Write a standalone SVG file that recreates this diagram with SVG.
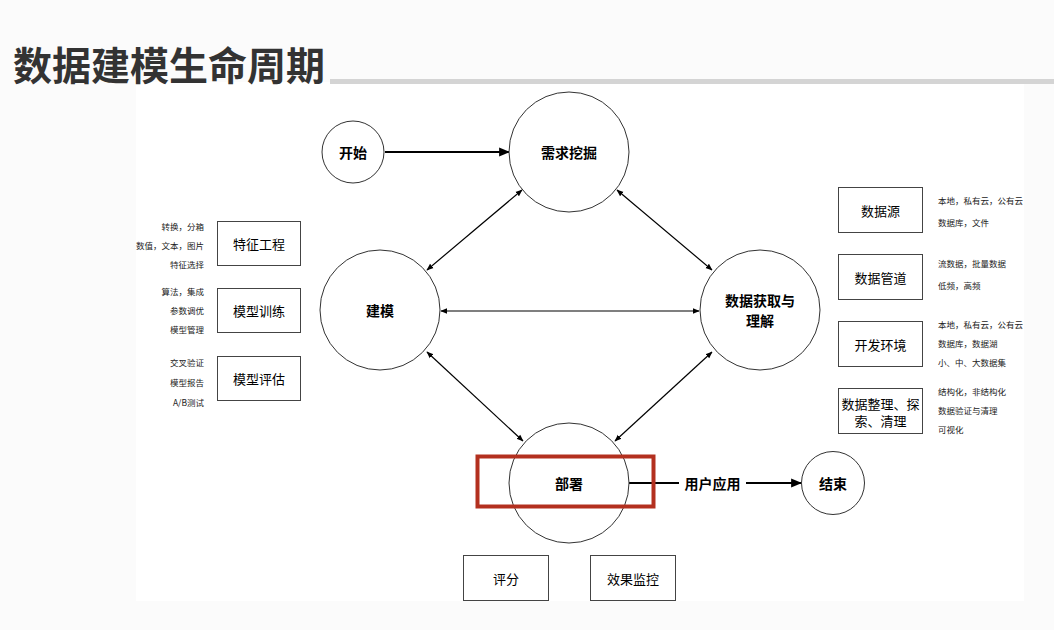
<svg xmlns="http://www.w3.org/2000/svg" width="1054" height="630" viewBox="0 0 1054 630">
<defs>
<marker id="ah" viewBox="0 0 10 10" refX="9" refY="5" markerWidth="7" markerHeight="7" orient="auto-start-reverse" markerUnits="userSpaceOnUse">
<path d="M0,1 L10,5 L0,9 z" fill="#000"/>
</marker>
<marker id="ahb" viewBox="0 0 10 10" refX="9" refY="5" markerWidth="11" markerHeight="11" orient="auto" markerUnits="userSpaceOnUse">
<path d="M0,1 L10,5 L0,9 z" fill="#000"/>
</marker>
<style>
text{font-family:"Noto Sans CJK SC","Liberation Sans",sans-serif;fill:#000}
.t{font-size:39px;font-weight:bold;fill:#333}
.c{fill:#fff;stroke:#333;stroke-width:1}
.ct{font-size:14px;font-weight:bold;text-anchor:middle;dominant-baseline:central}
.b{fill:#fff;stroke:#444;stroke-width:1}
.bt{font-size:13px;text-anchor:middle;dominant-baseline:central}
.s{font-size:8.5px;fill:#222}
.sr{text-anchor:end}
.e{stroke:#000;stroke-width:1.2;fill:none}
.eb{stroke:#000;stroke-width:2;fill:none}
</style>
</defs>
<rect width="1054" height="630" fill="#fbfbfb"/>
<rect x="136" y="82" width="888" height="519" fill="#fff"/>
<text class="t" x="13" y="80">数据建模生命周期</text>
<rect x="330" y="79" width="724" height="5" fill="#d4d4d4"/>

<g id="connectors">
<line class="eb" x1="385" y1="152" x2="509" y2="152" marker-end="url(#ahb)"/>
<line class="e" x1="522" y1="190" x2="427" y2="270" marker-start="url(#ah)" marker-end="url(#ah)"/>
<line class="e" x1="617" y1="190" x2="712" y2="270" marker-start="url(#ah)" marker-end="url(#ah)"/>
<line class="e" x1="441" y1="311" x2="699" y2="311" marker-start="url(#ah)" marker-end="url(#ah)"/>
<line class="e" x1="427" y1="352" x2="523" y2="441" marker-start="url(#ah)" marker-end="url(#ah)"/>
<line class="e" x1="712" y1="352" x2="615" y2="441" marker-start="url(#ah)" marker-end="url(#ah)"/>
<line class="eb" x1="629" y1="483" x2="679" y2="483"/>
<line class="eb" x1="746" y1="483" x2="801" y2="483" marker-end="url(#ahb)"/>
<text x="712.5" y="483" style="font-size:14px;font-weight:bold;text-anchor:middle;dominant-baseline:central">用户应用</text>
</g>

<g id="n-start"><circle class="c" cx="353" cy="152" r="31"/><text class="ct" x="353" y="152">开始</text></g>
<g id="n-req"><circle class="c" cx="569" cy="152" r="60"/><text class="ct" x="569" y="152">需求挖掘</text></g>
<g id="n-model"><circle class="c" cx="380" cy="310" r="60"/><text class="ct" x="380" y="310">建模</text></g>
<g id="n-data"><circle class="c" cx="760" cy="310" r="60"/><text class="ct" x="760" y="300">数据获取与</text><text class="ct" x="760" y="320">理解</text></g>
<g id="n-deploy"><circle class="c" cx="569" cy="483" r="60"/><text class="ct" x="569" y="483">部署</text>
<rect x="477.5" y="456.5" width="176" height="50" fill="none" stroke="#b3301f" stroke-width="4"/></g>
<g id="n-end"><circle class="c" cx="833" cy="483" r="31.5"/><text class="ct" x="833" y="483">结束</text></g>

<g id="n-fe"><rect class="b" x="217.5" y="221.5" width="83" height="44"/><text class="bt" x="259" y="243.5">特征工程</text>
<text class="s sr" x="204" y="230">转换，分箱</text><text class="s sr" x="204" y="249">数值，文本，图片</text><text class="s sr" x="204" y="268">特征选择</text></g>
<g id="n-train"><rect class="b" x="217.5" y="288.5" width="83" height="44"/><text class="bt" x="259" y="310.5">模型训练</text>
<text class="s sr" x="204" y="295">算法，集成</text><text class="s sr" x="204" y="314">参数调优</text><text class="s sr" x="204" y="333">模型管理</text></g>
<g id="n-eval"><rect class="b" x="217.5" y="356.5" width="83" height="44"/><text class="bt" x="259" y="378.5">模型评估</text>
<text class="s sr" x="204" y="366">交叉验证</text><text class="s sr" x="204" y="386">模型报告</text><text class="s sr" x="204" y="406">A/B测试</text></g>

<g id="n-src"><rect class="b" x="838.5" y="187.5" width="84" height="45"/><text class="bt" x="880.5" y="210">数据源</text>
<text class="s" x="938" y="204">本地，私有云，公有云</text><text class="s" x="938" y="226">数据库，文件</text></g>
<g id="n-pipe"><rect class="b" x="838.5" y="254.5" width="84" height="45"/><text class="bt" x="880.5" y="277">数据管道</text>
<text class="s" x="938" y="267">流数据，批量数据</text><text class="s" x="938" y="289">低频，高频</text></g>
<g id="n-env"><rect class="b" x="838.5" y="321.5" width="84" height="45"/><text class="bt" x="880.5" y="344">开发环境</text>
<text class="s" x="938" y="328">本地，私有云，公有云</text><text class="s" x="938" y="347">数据库，数据湖</text><text class="s" x="938" y="366">小、中、大数据集</text></g>
<g id="n-clean"><rect class="b" x="838.5" y="388.5" width="84" height="45"/><text class="bt" x="880.5" y="403">数据整理、探</text><text class="bt" x="880.5" y="420">索、清理</text>
<text class="s" x="938" y="395">结构化，非结构化</text><text class="s" x="938" y="414">数据验证与清理</text><text class="s" x="938" y="433">可视化</text></g>

<g id="n-score"><rect class="b" x="463.5" y="555.5" width="85" height="45"/><text class="bt" x="506" y="578">评分</text></g>
<g id="n-mon"><rect class="b" x="590.5" y="555.5" width="85" height="45"/><text class="bt" x="633" y="578">效果监控</text></g>
</svg>
